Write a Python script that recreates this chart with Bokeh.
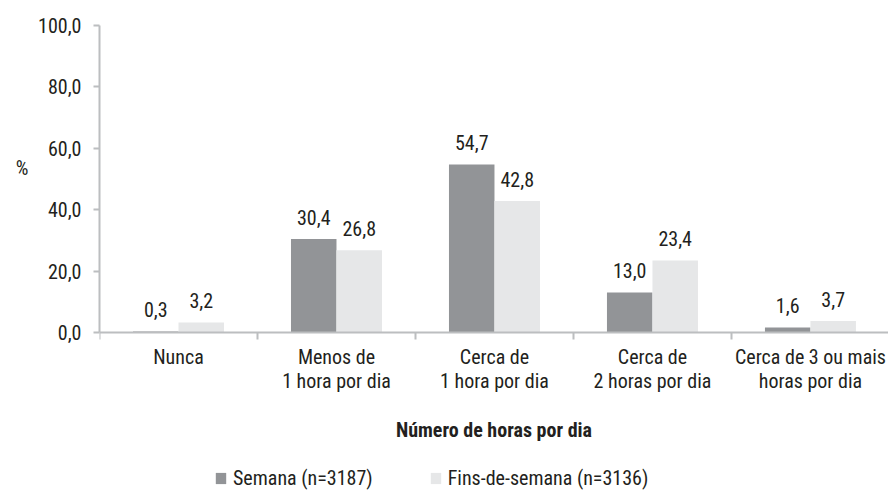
from bokeh.plotting import figure
from bokeh.models import (ColumnDataSource, FixedTicker, LinearAxis, Range1d,
                          Legend, LegendItem)
from bokeh.core.properties import value
from bokeh.embed import file_html
from bokeh.resources import INLINE

categories = ["Nunca", "Menos de\n1 hora por dia", "Cerca de\n1 hora por dia",
              "Cerca de\n2 horas por dia", "Cerca de 3 ou mais\nhoras por dia"]
semana = [0.3, 30.4, 54.7, 13.0, 1.6]
fins = [3.2, 26.8, 42.8, 23.4, 3.7]
series_names = ["Semana (n=3187)", "Fins-de-semana (n=3136)"]
y_ticks = [0, 20, 40, 60, 80, 100]
x_title = "Número de horas por dia"
y_title = "%"

FONT = "Roboto Condensed, DejaVu Sans Condensed, Roboto, sans-serif"
TXT = "#231f20"
DARK = "#929497"
LIGHT = "#e6e7e8"
AX = "#bcbec0"
FS = "20px"

def fmt(v):
    return f"{v:.1f}".replace(".", ",")

n = len(categories)
centers = [i + 0.5 for i in range(n)]
bw = 0.288
off = 0.144

src = ColumnDataSource(dict(
    xs=[c - off for c in centers],
    xf=[c + off for c in centers],
    semana=semana, fins=fins,
    ls=[fmt(v) for v in semana],
    lf=[fmt(v) for v in fins],
))

p = figure(width=888, height=490, output_backend="svg", toolbar_location=None,
           x_range=Range1d(0, 4.994), y_range=Range1d(-51.5, 100),
           x_axis_type=None, y_axis_type=None,
           min_border_left=99, min_border_top=25, min_border_right=0,
           min_border_bottom=0)
p.outline_line_color = None
p.grid.visible = False
p.background_fill_color = "white"
p.border_fill_color = "white"

r1 = p.vbar(x="xs", top="semana", width=bw, source=src, fill_color=DARK, line_color=None)
r2 = p.vbar(x="xf", top="fins", width=bw, source=src, fill_color=LIGHT, line_color=None)

for xcol, ycol, tcol in (("xs", "semana", "ls"), ("xf", "fins", "lf")):
    p.text(x=xcol, y=ycol, text=tcol, source=src, text_align="center",
           text_baseline="alphabetic", y_offset=-22, text_font=value(FONT),
           text_font_size=FS, text_color=TXT)

# y axis
ya = LinearAxis(ticker=FixedTicker(ticks=y_ticks), bounds=(0, 100),
                major_label_overrides={t: fmt(t) for t in y_ticks})
ya.axis_line_color = AX
ya.axis_line_width = 2
ya.major_tick_line_color = AX
ya.major_tick_line_width = 2
ya.major_tick_in = 0
ya.major_tick_out = 6
ya.minor_tick_line_color = None
ya.major_label_standoff = 12
ya.major_label_text_font = FONT
ya.major_label_text_font_size = FS
ya.major_label_text_color = TXT
p.add_layout(ya, "left")

# y-axis title "%" placed level with the upper half of the axis
ya_title = LinearAxis(ticker=FixedTicker(ticks=[53.5]), bounds=(0, 100),
                      major_label_overrides={53.5: y_title})
ya_title.axis_line_color = None
ya_title.major_tick_line_color = None
ya_title.minor_tick_line_color = None
ya_title.major_tick_in = 0
ya_title.major_tick_out = 0
ya_title.major_label_standoff = 7
ya_title.major_label_text_font = FONT
ya_title.major_label_text_font_size = FS
ya_title.major_label_text_color = TXT
p.add_layout(ya_title, "left")

# x axis, pinned at y = 0
xa = LinearAxis(ticker=FixedTicker(ticks=centers, minor_ticks=list(range(n + 1))),
                fixed_location=0,
                major_label_overrides={c: lab for c, lab in zip(centers, categories)})
xa.axis_line_color = AX
xa.axis_line_width = 2
xa.major_tick_line_color = None
xa.major_tick_in = 0
xa.major_tick_out = 0
xa.minor_tick_line_color = AX
xa.minor_tick_line_width = 2
xa.minor_tick_in = 0
xa.minor_tick_out = 7
xa.major_label_standoff = 6
xa.major_label_text_line_height = 1.0
xa.major_label_text_font = FONT
xa.major_label_text_font_size = FS
xa.major_label_text_color = TXT
xa.axis_label = x_title
xa.axis_label_standoff = 21
xa.axis_label_text_font = FONT
xa.axis_label_text_font_size = FS
xa.axis_label_text_font_style = "bold"
xa.axis_label_text_color = TXT
p.add_layout(xa, "below")

legend = Legend(items=[LegendItem(label=series_names[0], renderers=[r1]),
                       LegendItem(label=series_names[1], renderers=[r2])],
                orientation="horizontal", location=(115, 0),
                glyph_width=13, glyph_height=14, label_standoff=6, spacing=56,
                padding=0, margin=0, border_line_color=None,
                background_fill_alpha=0,
                label_text_font=FONT, label_text_font_size=FS,
                label_text_color=TXT)
p.add_layout(legend, "center")

open("out.html", "w").write(file_html(p, INLINE))
